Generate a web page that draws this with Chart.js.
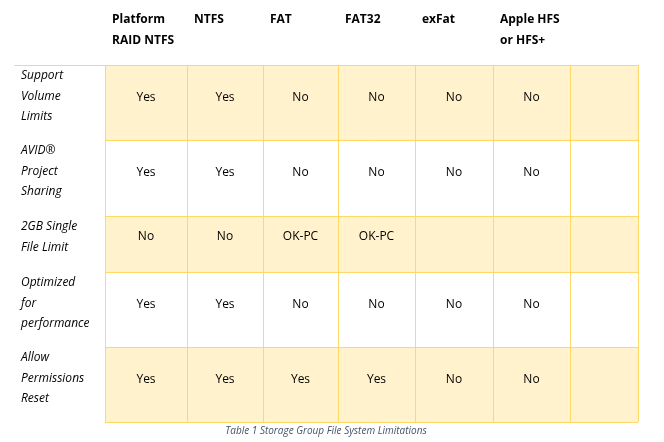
<!DOCTYPE html>
<html><head><meta charset="utf-8">
<script src="https://cdn.jsdelivr.net/npm/chart.js@4"></script>
<style>html,body{margin:0;padding:0;background:#fff}#c{display:block}</style>
</head><body>
<div style="width:664px;height:442px"><canvas id="c"></canvas></div>
<script>
// table content
const headers = [['Platform', 'RAID NTFS'], ['NTFS'], ['FAT'], ['FAT32'], ['exFat'], ['Apple HFS', 'or HFS+'], []];
const rowLabels = [
  ['Support', 'Volume', 'Limits'],
  ['AVID\u00AE', 'Project', 'Sharing'],
  ['2GB Single', 'File Limit'],
  ['Optimized', 'for', 'performance'],
  ['Allow', 'Permissions', 'Reset']
];
const cells = [
  ['Yes', 'Yes', 'No', 'No', 'No', 'No', ''],
  ['Yes', 'Yes', 'No', 'No', 'No', 'No', ''],
  ['No', 'No', 'OK-PC', 'OK-PC', '', '', ''],
  ['Yes', 'Yes', 'No', 'No', 'No', 'No', ''],
  ['Yes', 'Yes', 'Yes', 'Yes', 'No', 'No', '']
];
const caption = 'Table 1 Storage Group File System Limitations';

// layout (page units)
const colEdges = [105, 187, 263, 338, 415, 493, 570, 638];
const rowEdges = [65, 140, 216, 272, 347, 422];
const FONT = "'Open Sans', sans-serif";

new Chart(document.getElementById('c'), {
  type: 'scatter',
  data: { datasets: [{ data: [] }] },
  options: {
    responsive: true, maintainAspectRatio: false, animation: false,
    layout: { padding: 0 },
    scales: {
      x: { type: 'linear', min: 0, max: 664, display: false },
      y: { type: 'linear', min: 0, max: 442, reverse: true, display: false }
    },
    plugins: { legend: { display: false }, tooltip: { enabled: false } }
  },
  plugins: [{
    id: 'table',
    afterDraw(chart) {
      const { ctx, scales: { x, y } } = chart;
      const X = v => x.getPixelForValue(v), Y = v => y.getPixelForValue(v);
      ctx.save();
      // cell fills
      cells.forEach((row, r) => {
        ctx.fillStyle = r % 2 === 0 ? '#FFF2CC' : '#FFFFFF';
        ctx.fillRect(X(colEdges[0]), Y(rowEdges[r]), X(colEdges[7]) - X(colEdges[0]), Y(rowEdges[r + 1]) - Y(rowEdges[r]));
      });
      // borders
      ctx.strokeStyle = '#FFD966';
      ctx.lineWidth = 1;
      ctx.beginPath();
      ctx.moveTo(X(14), Y(rowEdges[0]) + 0.5); ctx.lineTo(X(colEdges[7]), Y(rowEdges[0]) + 0.5);
      rowEdges.slice(1).forEach(e => { ctx.moveTo(X(colEdges[0]), Y(e) + 0.5); ctx.lineTo(X(colEdges[7]), Y(e) + 0.5); });
      colEdges.forEach(e => { ctx.moveTo(X(e) + 0.5, Y(rowEdges[0])); ctx.lineTo(X(e) + 0.5, Y(rowEdges[5])); });
      ctx.stroke();
      // headers
      ctx.fillStyle = '#000';
      ctx.textBaseline = 'middle';
      ctx.font = `bold 12px ${FONT}`;
      headers.forEach((h, c) => h.forEach((t, i) => ctx.fillText(t, X(colEdges[c] + 7), Y(20 + i * 21))));
      // row labels
      ctx.font = `italic 12px ${FONT}`;
      rowLabels.forEach((lab, r) => {
        const top = rowEdges[r] + 11;
        lab.forEach((t, i) => ctx.fillText(t, X(21), Y(top + i * 20.5)));
      });
      // cell values
      ctx.font = `12px ${FONT}`;
      ctx.textAlign = 'center';
      cells.forEach((row, r) => {
        const yc = r === 2 ? rowEdges[r] + 21 : (rowEdges[r] + rowEdges[r + 1]) / 2 - 5;
        row.forEach((t, c) => ctx.fillText(t, X((colEdges[c] + colEdges[c + 1]) / 2), Y(yc)));
      });
      // caption
      ctx.font = `italic 10px ${FONT}`;
      ctx.fillStyle = '#44546A';
      ctx.fillText(caption, X(326), Y(431));
      ctx.restore();
    }
  }]
});
</script>
</body></html>
